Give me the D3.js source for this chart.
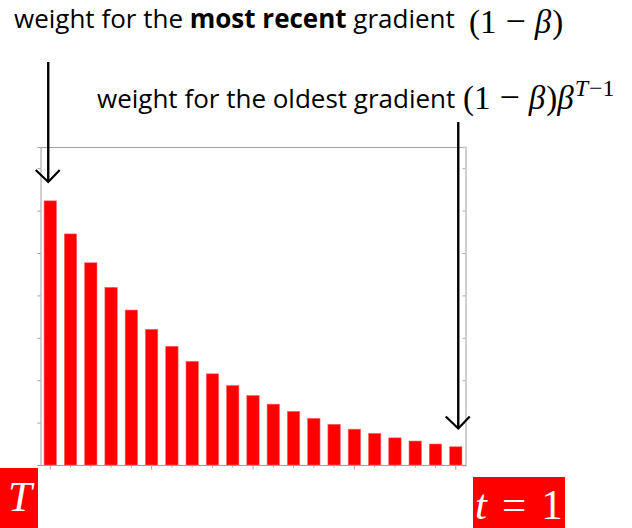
<!DOCTYPE html>
<html>
<head>
<meta charset="utf-8">
<script src="https://cdn.jsdelivr.net/npm/d3@7"></script>
<style>
  html, body { margin: 0; padding: 0; background: #fff; }
  svg { display: block; }
</style>
</head>
<body>
<svg id="chart" width="632" height="528"></svg>
<script>
// Time steps, newest (T) on the left down to t = 1 on the right
const steps = d3.range(21, 0, -1);
// Weight given to the gradient at each step
const weights = [0.1246, 0.1090, 0.0954, 0.0838, 0.0731, 0.0640, 0.0560, 0.0489,
                 0.0430, 0.0375, 0.0328, 0.0287, 0.0253, 0.0220, 0.0192, 0.0169,
                 0.0149, 0.0128, 0.0113, 0.0099, 0.0086];
const yTicks = [0, 0.02, 0.04, 0.06, 0.08, 0.10, 0.12, 0.14];
const yDomain = [0, 0.15];

const svg = d3.select("#chart");
const plot = { left: 40, right: 466, top: 147, bottom: 465 };

const x = d3.scaleBand()
  .domain(steps)
  .range([plot.left, plot.right])
  .paddingInner(0.39)
  .paddingOuter(0.2);

const y = d3.scaleLinear().domain(yDomain).range([plot.bottom, plot.top]);

// Frame: top edge and lighter right axis
svg.append("line")
  .attr("x1", plot.left).attr("x2", plot.right)
  .attr("y1", plot.top + 0.5).attr("y2", plot.top + 0.5)
  .attr("stroke", "#a0a0a0").attr("stroke-width", 1);

const rightAxis = svg.append("g")
  .attr("transform", `translate(${plot.right - 0.5},0)`)
  .call(d3.axisLeft(y).tickValues(yTicks).tickSize(3).tickFormat(""));
rightAxis.select(".domain").attr("stroke", "#cfcfcf").attr("stroke-width", 2);
rightAxis.selectAll(".tick line").attr("stroke", "#b0b0b0");

const leftAxis = svg.append("g")
  .attr("transform", `translate(${plot.left + 0.5},0)`)
  .call(d3.axisLeft(y).tickValues(yTicks).tickSize(3).tickFormat(""));
leftAxis.select(".domain").attr("stroke", "#a0a0a0");
leftAxis.selectAll(".tick line").attr("stroke", "#a0a0a0");

// Bars
svg.append("g").selectAll("rect")
  .data(weights)
  .join("rect")
  .attr("x", (d, i) => x(steps[i]))
  .attr("width", x.bandwidth())
  .attr("y", d => y(d))
  .attr("height", d => y(0) - y(d))
  .attr("fill", "#ff0000")
  .attr("stroke", "#ff6666")
  .attr("stroke-width", 0.6);

// Bottom axis: a tick per step, longer every fifth step
const bottomAxis = svg.append("g")
  .attr("transform", `translate(0,${plot.bottom + 0.5})`)
  .call(d3.axisBottom(x).tickSize(2).tickFormat("").tickSizeOuter(0));
bottomAxis.select(".domain")
  .attr("d", `M${plot.left},0H${plot.right}`)
  .attr("stroke", "#a0a0a0");
bottomAxis.selectAll(".tick line")
  .attr("stroke", "#a0a0a0")
  .attr("y2", (d, i) => i % 5 === 0 ? 4 : 2);

// Arrows pointing at the first and last bar
function arrow(cx, y0, y1) {
  const g = svg.append("g").attr("stroke", "#000").attr("fill", "none");
  g.append("line").attr("x1", cx).attr("x2", cx).attr("y1", y0).attr("y2", y1)
    .attr("stroke-width", 2.4);
  g.append("path")
    .attr("d", `M${cx - 12.5},${y1 - 12}L${cx},${y1}L${cx + 11.5},${y1 - 12}`)
    .attr("stroke-width", 2.2);
}
const first = x(steps[0]) + x.bandwidth() / 2;
const last = x(steps[steps.length - 1]) + x.bandwidth() / 2;
arrow(first - 2, 62, 182);
arrow(last + 2.5, 122, 428.5);

// Annotations
const sans = "'Open Sans', 'Noto Sans', sans-serif";
const serif = "'Liberation Serif', 'DejaVu Serif', serif";

const t1 = svg.append("text").attr("x", 14).attr("y", 28)
  .attr("font-family", sans).attr("font-size", 26).attr("fill", "#000");
t1.append("tspan").text("weight for the ");
t1.append("tspan").attr("font-weight", 700).text("most recent");
t1.append("tspan").text(" gradient");

// Math expressions set in a serif face, italic variables
function factor(sel) {
  sel.append("tspan").text("(1");
  sel.append("tspan").attr("dx", 9).attr("font-size", 36).text("\u2212");
  sel.append("tspan").attr("dx", 9).attr("font-style", "italic").text("\u03B2");
  sel.append("tspan").attr("dx", 1).text(")");
}

const m1 = svg.append("text").attr("x", 469).attr("y", 33)
  .attr("font-family", serif).attr("font-size", 33).attr("fill", "#000");
factor(m1);

svg.append("text").attr("x", 97).attr("y", 108)
  .attr("font-family", sans).attr("font-size", 26).attr("fill", "#000")
  .text("weight for the oldest gradient");

const m2 = svg.append("text").attr("x", 463).attr("y", 109)
  .attr("font-family", serif).attr("font-size", 33).attr("fill", "#000");
factor(m2);
m2.append("tspan").attr("font-style", "italic").text("\u03B2");
m2.append("tspan").attr("font-size", 24).attr("dy", -13).attr("dx", 1).attr("font-style", "italic").text("T");
m2.append("tspan").attr("font-size", 24).attr("dx", 1).text("\u22121");

// Axis end labels on red tags
svg.append("rect").attr("x", 0).attr("y", 468).attr("width", 38).attr("height", 60).attr("fill", "#ff0000");
svg.append("text").attr("x", 20).attr("y", 511).attr("text-anchor", "middle")
  .attr("font-family", serif).attr("font-style", "italic").attr("font-size", 43)
  .attr("fill", "#fff").text("T");

svg.append("rect").attr("x", 473).attr("y", 477).attr("width", 92).attr("height", 51).attr("fill", "#ff0000");
const tl = svg.append("text").attr("x", 475).attr("y", 519)
  .attr("font-family", serif).attr("font-size", 43).attr("fill", "#fff");
tl.append("tspan").attr("font-style", "italic").text("t");
tl.append("tspan").attr("dx", 15).text("=");
tl.append("tspan").attr("dx", 15).text("1");
</script>
</body>
</html>
